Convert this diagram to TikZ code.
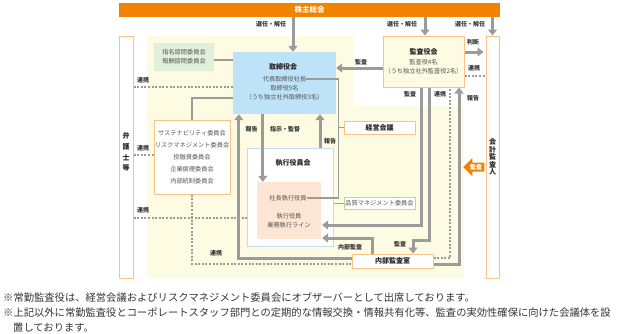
\documentclass[tikz,border=0pt]{standalone}
\usepackage{fontspec}
\setmainfont{Noto Sans CJK JP}
\usetikzlibrary{positioning,arrows.meta,shapes.arrows}
\definecolor{barorange}{HTML}{F08300}
\definecolor{lineorange}{HTML}{F9C28C}
\definecolor{bgyellow}{HTML}{FEFBE3}
\definecolor{boardblue}{HTML}{BEE3F8}
\definecolor{edgeblue}{HTML}{C5DCF0}
\definecolor{leafgreen}{HTML}{E2EFDA}
\definecolor{edgegreen}{HTML}{B5D99C}
\definecolor{peach}{HTML}{FCE5D3}
\definecolor{arrowgray}{HTML}{9B9B9B}
\definecolor{textgray}{HTML}{555555}
\tikzstyle{garrow} = [draw=arrowgray, line width=3pt, -{Triangle[length=6pt,width=9pt]}]
\tikzstyle{link} = [draw=arrowgray, line width=1.2pt]
\tikzstyle{renkei} = [draw=arrowgray, line width=2.2pt, dash pattern=on 2pt off 1.6pt]
\tikzstyle{obox} = [draw=lineorange, line width=1pt, fill=white, inner sep=0pt]
\tikzstyle{lbl} = [font=\fontsize{6}{7}\selectfont\bfseries, text=black!80, inner sep=0pt]
\tikzstyle{ttl} = [font=\fontsize{7}{8}\selectfont\bfseries, text=black!85, inner sep=0pt]
\tikzstyle{boxtxt} = [font=\fontsize{6.2}{9}\selectfont, text=textgray, align=center, inner sep=0pt]

\begin{document}
\begin{tikzpicture}[x=1pt,y=-1pt]
\useasboundingbox (0,0) rectangle (620,333);
% background
\fill[bgyellow] (147,36) -- (354,36) -- (354,106) -- (464,106) -- (464,278) -- (147,278) -- cycle;

\node (soukai) [fill=barorange, minimum width=381pt, minimum height=14pt, inner sep=0pt, text=white, font=\fontsize{7.5}{8}\selectfont\bfseries] at (309.5,10) {株主総会};

\node (bengo) [obox, minimum width=14pt, minimum height=242pt] at (126,157) {};
\node (kaikei) [obox, minimum width=13pt, minimum height=242pt] at (492.5,157) {};
\node (bengolbl) [ttl, align=center, font=\fontsize{7}{10.7}\selectfont\bfseries] at (126,152) {弁\\護\\士\\等};
\node (kaikeilbl) [ttl, align=center, font=\fontsize{7}{7.6}\selectfont\bfseries] at (492.5,157) {会\\計\\監\\査\\人};

\node (kansayaku) [obox, fill=bgyellow, minimum width=81pt, minimum height=51pt] at (423.5,61.5) {};
\node (kansattl) [ttl] at (423.5,52) {監査役会};
\node (kansatxt) [boxtxt] at (423.5,66.5) {監査役4名\\（うち独立社外監査役2名）};

\node (torishimari) [fill=boardblue, minimum width=103pt, minimum height=62pt, inner sep=0pt] at (284.5,83) {};
\node (torittl) [ttl] at (283,67) {取締役会};
\node (daihyo) [boxtxt] at (284.5,79) {代表取締役社長};
\node (toritxt) [boxtxt] at (284.5,92.5) {取締役9名\\（うち独立社外取締役3名）};

\node (shimei) [boxtxt, fill=leafgreen, minimum width=60pt, minimum height=28pt] at (184,57) {指名諮問委員会\\報酬諮問委員会};
\node (iinkai) [obox, boxtxt, font=\fontsize{6.2}{12}\selectfont, minimum width=76pt, minimum height=74pt] at (192,157) {サステナビリティ委員会\\リスクマネジメント委員会\\投融資委員会\\企業倫理委員会\\内部統制委員会};
\node (keiei) [obox, ttl, minimum width=71pt, minimum height=13pt] at (379.5,127.5) {経営会議};

\node (shikko) [draw=edgeblue, line width=1pt, fill=white, minimum width=86pt, minimum height=98pt] at (290,197) {};
\node (shikkottl) [ttl] at (293,163) {執行役員会};
\node (shikkoin) [fill=peach, minimum width=64pt, minimum height=57pt] at (289,210.5) {};
\node (shachou) [boxtxt] at (288,198) {社長執行役員};
\node (gyoumu) [boxtxt] at (289,221) {執行役員\\業務執行ライン};
\node (hinshitsu) [boxtxt, draw=edgegreen, line width=1pt, fill=white, minimum width=71pt, minimum height=12pt] at (379.5,203.5) {品質マネジメント委員会};
\node (naibu) [obox, ttl, minimum width=81pt, minimum height=14pt] at (392.5,261) {内部監査室};

\node (kansaarrow) [single arrow, shape border rotate=180, fill=barorange, text=white, font=\fontsize{6}{6.5}\selectfont\bfseries, inner sep=1.5pt, single arrow head extend=4.5pt, minimum height=21pt] at (476,167) {監査};

% arrows from the general meeting
\draw[garrow] ([xshift=8.5pt]torishimari.north |- soukai.south) -- ([xshift=8.5pt]torishimari.north);
\draw[garrow] ([xshift=1.5pt]kansayaku.north |- soukai.south) -- ([xshift=1.5pt]kansayaku.north);
\draw[garrow] (kaikei.north |- soukai.south) -- (kaikei.north);
\node (sennin1) [lbl] at (271,24) {選任・解任};
\node (sennin2) [lbl] at (402,24) {選任・解任};
\node (sennin3) [lbl] at (470,24) {選任・解任};

% audit board
\draw[garrow] ([yshift=-6.5pt]kansayaku.west) -- ([yshift=-6.5pt]kansayaku.west -| torishimari.east);
\draw[garrow, shorten >=2pt] ([yshift=9.5pt]kansayaku.east) -- ([yshift=9.5pt]kansayaku.east -| kaikei.west);
\draw[renkei] ([yshift=-14.5pt]kansayaku.east) -- ([yshift=-14.5pt]kansayaku.east -| kaikei.west);
\draw[garrow, shorten >=1pt] ([xshift=-2.5pt]kansayaku.south) |- ([yshift=-14.5pt]shikkoin.east);
\draw[garrow] ([xshift=5.5pt]kansayaku.south) -- ++(0,153) -| ([xshift=20.5pt]naibu.north);
\draw[garrow] ([yshift=-3pt]naibu.east) -| ([xshift=35.5pt]kansayaku.south);
\draw[renkei] ([yshift=3pt]naibu.east) -| ([xshift=26.5pt]kansayaku.south);
\node (kansa1) [lbl] at (361,62) {監査};
\node (handan) [lbl] at (473,42) {判断};
\node (renkei1) [lbl] at (474,68) {連携};
\node (kansa2) [lbl] at (410,94) {監査};
\node (renkei2) [lbl] at (440,94) {連携};
\node (houkoku1) [lbl] at (473,98) {報告};
\node (kansa3) [lbl] at (400,244) {監査};

% board and executives
\draw[garrow] ([yshift=3pt]naibu.west) -| ([xshift=6pt]torishimari.south west);
\draw[garrow] ([xshift=30pt]torishimari.south west) -- ([xshift=30pt]torishimari.south west |- shikkoin.north);
\draw[garrow] ([xshift=30pt]shikko.north) -- ([xshift=30pt]shikko.north |- torishimari.south);
\draw[garrow, shorten >=1pt] ([xshift=-20.5pt]naibu.north) |- ([yshift=-27.5pt]shikkoin.east);
\node (houkoku2) [lbl] at (251.5,129) {報告};
\node (shiji) [lbl] at (285,129) {指示・監督};
\node (houkoku3) [lbl] at (330,141) {報告};
\node (naibukansa) [lbl] at (350,247) {内部監査};

\draw[link] ([yshift=-3pt]shimei.east) -- ([yshift=-3pt]shimei.east -| torishimari.west);
\draw[link] ([yshift=-15pt]torishimari.west) -| (iinkai.north);
\draw[link] (daihyo.east) -- ++(32,0) coordinate (bend) |- (shachou.east);
\draw[link] (keiei.west) -- (keiei.west -| bend);
\draw[link] (shikko.east |- hinshitsu.west) -- (hinshitsu.west);

% cooperation
\draw[renkei] ([yshift=-4pt]torishimari.west -| bengo.east) -- ([yshift=-4pt]torishimari.west);
\draw[renkei] ([yshift=2pt]iinkai.west -| bengo.east) -- ([yshift=2pt]iinkai.west);
\draw[renkei] ([yshift=-21pt]shikko.west -| bengo.east) -- ([yshift=-21pt]shikko.west);
\draw[renkei] (iinkai.south) |- ([yshift=-3pt]naibu.west);
\node (renkei3) [lbl] at (143,80) {連携};
\node (renkei4) [lbl] at (143,148) {連携};
\node (renkei5) [lbl] at (143,210) {連携};
\node (renkei6) [lbl] at (216,253) {連携};

% notes
\node (note1) [anchor=west, inner sep=0pt, text=black!80, font=\fontsize{10.3}{12}\selectfont] at (3,298) {※常勤監査役は、経営会議およびリスクマネジメント委員会にオブザーバーとして出席しております。};
\node (note2) [anchor=west, inner sep=0pt, text=black!80, font=\fontsize{10.3}{12}\selectfont] at (3,313) {※上記以外に常勤監査役とコーポレートスタッフ部門との定期的な情報交換・情報共有化等、監査の実効性確保に向けた会議体を設};
\node (note3) [anchor=west, inner sep=0pt, text=black!80, font=\fontsize{10.3}{12}\selectfont] at (13,328) {置しております。};
\end{tikzpicture}
\end{document}
